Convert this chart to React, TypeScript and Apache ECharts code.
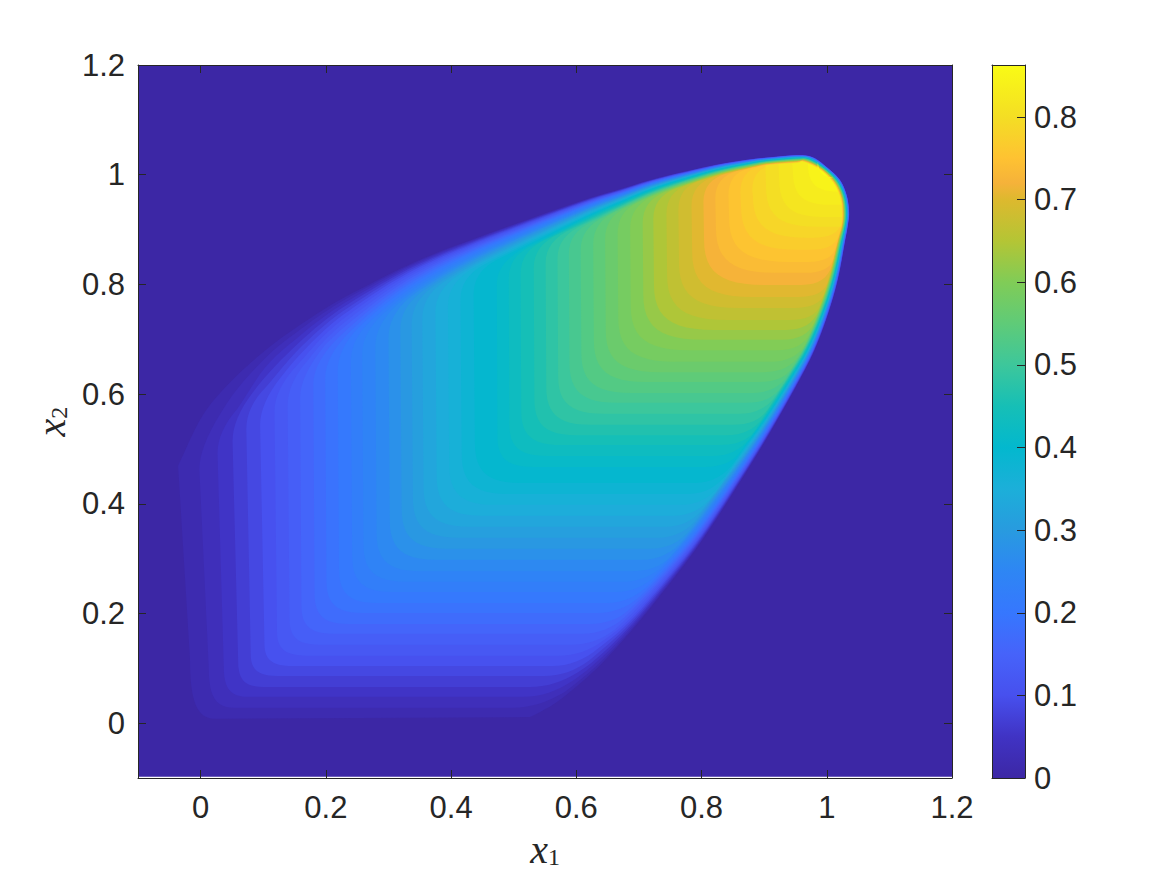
import React, { useEffect, useRef } from "react";
import * as echarts from "echarts";

// Axis ticks
const TICKS_X1 = [0, 0.2, 0.4, 0.6, 0.8, 1, 1.2];
const TICKS_X2 = [0, 0.2, 0.4, 0.6, 0.8, 1, 1.2];
const TICKS_BAR = [0, 0.1, 0.2, 0.3, 0.4, 0.5, 0.6, 0.7, 0.8];
const BAR_MAX = 0.863;

// Colour scale
const SCALE_VALUES = [0, 0.05, 0.1, 0.15, 0.2, 0.25, 0.3, 0.35, 0.4, 0.45, 0.5, 0.55, 0.6, 0.65, 0.7, 0.72, 0.75, 0.8, 0.863];
const SCALE_COLORS = ["#3c27a5", "#4033c4", "#4750ee", "#4663fa", "#3677fe", "#2e86f4", "#289bdf", "#1cafd9", "#03b8ce", "#16bfb6", "#3dc79b", "#5fcb78", "#80cc57", "#b4c535", "#ddb92e", "#f5b23a", "#fec232", "#f4de24", "#f9fb15"];

// Filled level sets of the field, lowest to highest
const LEVELS = [0.017, 0.034, 0.052, 0.069, 0.086, 0.103, 0.12, 0.138, 0.155, 0.172, 0.189, 0.206, 0.224, 0.241, 0.258, 0.275, 0.292, 0.31, 0.327, 0.344, 0.361, 0.378, 0.396, 0.413, 0.43, 0.447, 0.464, 0.482, 0.499, 0.516, 0.533, 0.55, 0.568, 0.585, 0.602, 0.622, 0.645, 0.665, 0.684, 0.703, 0.722, 0.738, 0.754, 0.77, 0.786, 0.8, 0.815, 0.83, 0.845, 0.86];
const LEFT_TOP = [-0.036, -0.002, 0.027, 0.051, 0.073, 0.095, 0.118, 0.139, 0.159, 0.18, 0.199, 0.219, 0.24, 0.258, 0.279, 0.3, 0.319, 0.337, 0.354, 0.375, 0.395, 0.415, 0.436, 0.473, 0.492, 0.511, 0.532, 0.551, 0.57, 0.588, 0.607, 0.627, 0.646, 0.666, 0.686, 0.706, 0.723, 0.744, 0.763, 0.784, 0.803, 0.822, 0.843, 0.862, 0.881, 0.902, 0.923, 0.945, 0.969, 0.985];
const LEFT_LOW = [-0.017, 0.013, 0.037, 0.06, 0.08, 0.102, 0.122, 0.142, 0.161, 0.182, 0.201, 0.221, 0.242, 0.26, 0.281, 0.302, 0.321, 0.339, 0.356, 0.377, 0.397, 0.417, 0.438, 0.474, 0.493, 0.512, 0.533, 0.552, 0.571, 0.589, 0.608, 0.628, 0.647, 0.667, 0.687, 0.707, 0.724, 0.745, 0.764, 0.785, 0.804, 0.823, 0.844, 0.863, 0.882, 0.903, 0.924, 0.946, 0.97, 0.986];
const BOTTOM = [0.008, 0.028, 0.048, 0.066, 0.086, 0.104, 0.123, 0.143, 0.163, 0.181, 0.201, 0.219, 0.239, 0.258, 0.277, 0.298, 0.318, 0.338, 0.358, 0.378, 0.398, 0.418, 0.438, 0.467, 0.487, 0.507, 0.525, 0.544, 0.564, 0.584, 0.602, 0.622, 0.64, 0.659, 0.68, 0.699, 0.717, 0.735, 0.757, 0.777, 0.799, 0.821, 0.841, 0.863, 0.885, 0.905, 0.923, 0.945, 0.969, 0.994];
const CORNER_RX = [0.04, 0.04, 0.038, 0.04, 0.043, 0.046, 0.048, 0.048, 0.051, 0.054, 0.058, 0.061, 0.064, 0.067, 0.07, 0.073, 0.073, 0.073, 0.073, 0.073, 0.073, 0.073, 0.073, 0.058, 0.061, 0.064, 0.067, 0.07, 0.073, 0.077, 0.08, 0.083, 0.086, 0.09, 0.093, 0.096, 0.096, 0.096, 0.096, 0.096, 0.096, 0.096, 0.096, 0.09, 0.086, 0.08, 0.07, 0.06, 0.05, 0.03];
const CORNER_RY = [0.11, 0.073, 0.055, 0.046, 0.04, 0.04, 0.044, 0.047, 0.051, 0.055, 0.058, 0.062, 0.066, 0.069, 0.069, 0.073, 0.073, 0.073, 0.073, 0.073, 0.073, 0.073, 0.073, 0.055, 0.058, 0.062, 0.066, 0.069, 0.069, 0.073, 0.073, 0.076, 0.076, 0.08, 0.08, 0.082, 0.082, 0.082, 0.082, 0.082, 0.082, 0.082, 0.08, 0.08, 0.076, 0.073, 0.069, 0.06, 0.05, 0.03];

// Outer rim of the field (where it leaves zero) and inner rim (where it reaches the interior value)
const RIM_OUTER_X = [0.531, 0.553, 0.579, 0.633, 0.686, 0.738, 0.802, 0.874, 0.917, 0.957, 0.981, 1.002, 1.018, 1.029, 1.034, 1.036, 1.032, 1.021, 1.0, 0.978, 0.952, 0.909, 0.882, 0.83, 0.777, 0.722, 0.67, 0.611, 0.483, 0.43, 0.378, 0.323, 0.271, 0.215, 0.164, 0.111, 0.05, 0.007, -0.025, -0.036];
const RIM_OUTER_Y = [0.008, 0.02, 0.042, 0.097, 0.164, 0.237, 0.334, 0.462, 0.544, 0.626, 0.681, 0.745, 0.809, 0.876, 0.908, 0.932, 0.963, 0.991, 1.014, 1.032, 1.036, 1.032, 1.029, 1.02, 1.007, 0.992, 0.974, 0.954, 0.903, 0.881, 0.859, 0.832, 0.803, 0.77, 0.735, 0.695, 0.642, 0.598, 0.553, 0.493];
const RIM_INNER_X = [0.526, 0.542, 0.563, 0.612, 0.663, 0.716, 0.78, 0.852, 0.896, 0.938, 0.964, 0.986, 1.003, 1.016, 1.023, 1.024, 1.021, 1.01, 0.989, 0.962, 0.952, 0.909, 0.882, 0.83, 0.777, 0.722, 0.67, 0.611, 0.483, 0.43, 0.378, 0.323, 0.258, 0.191, 0.138, 0.092, 0.05, -0.001, -0.03, -0.036];
const RIM_INNER_Y = [0.011, 0.037, 0.064, 0.124, 0.19, 0.261, 0.356, 0.48, 0.558, 0.638, 0.69, 0.752, 0.813, 0.877, 0.908, 0.932, 0.958, 0.985, 1.009, 1.023, 1.021, 1.018, 1.012, 0.999, 0.981, 0.959, 0.934, 0.905, 0.844, 0.817, 0.788, 0.751, 0.699, 0.648, 0.607, 0.58, 0.553, 0.504, 0.484, 0.469];
const RIM_VALUE = [0.017, 0.04, 0.069, 0.12, 0.189, 0.24, 0.32, 0.42, 0.499, 0.568, 0.61, 0.671, 0.722, 0.774, 0.8, 0.82, 0.85, 0.86, 0.86, 0.85, 0.83, 0.79, 0.77, 0.72, 0.67, 0.63, 0.58, 0.53, 0.43, 0.4, 0.36, 0.32, 0.27, 0.21, 0.15, 0.1, 0.055, 0.034, 0.017, 0.017];

// Extent of the image inside the axes
const IMAGE_X = [-0.0985, 1.2];
const IMAGE_Y = [-0.0975, 1.2];

const INK = "#262626";
const SANS = "'Liberation Sans', Arial, sans-serif";
const SERIF = "'Liberation Serif', serif";

function hex(c: string) {
  return [1, 3, 5].map((k) => parseInt(c.slice(k, k + 2), 16));
}
function colorAt(v: number) {
  let k = 0;
  while (k < SCALE_VALUES.length - 2 && v > SCALE_VALUES[k + 1]) k++;
  const t = Math.min(1, Math.max(0, (v - SCALE_VALUES[k]) / (SCALE_VALUES[k + 1] - SCALE_VALUES[k])));
  const a = hex(SCALE_COLORS[k]);
  const b = hex(SCALE_COLORS[k + 1]);
  return `rgb(${a.map((p, j) => Math.round(p + (b[j] - p) * t)).join(",")})`;
}

// Rounds a traced outline (Catmull-Rom) so that it is drawn as a curve
function rounded(points: number[][]) {
  const out: number[][] = [];
  const n = points.length;
  for (let i = 0; i < n - 1; i++) {
    const p0 = points[Math.max(0, i - 1)];
    const p1 = points[i];
    const p2 = points[i + 1];
    const p3 = points[Math.min(n - 1, i + 2)];
    for (let k = 0; k < 6; k++) {
      const t = k / 6;
      out.push([0, 1].map((d) =>
        0.5 * (2 * p1[d] + (p2[d] - p0[d]) * t + (2 * p0[d] - 5 * p1[d] + 4 * p2[d] - p3[d]) * t * t + (3 * p1[d] - p0[d] - 3 * p2[d] + p3[d]) * t * t * t)
      ));
    }
  }
  out.push(points[n - 1]);
  return out;
}

function bend(p0: number[], ctrl: number[], p1: number[]) {
  const out: number[][] = [];
  for (let k = 0; k <= 8; k++) {
    const t = k / 8;
    const u = 1 - t;
    out.push([0, 1].map((d) => u * u * p0[d] + 2 * u * t * ctrl[d] + t * t * p1[d]));
  }
  return out;
}

function levelOutline(i: number): number[][] {
  const c = LEVELS[i];
  const L = LEFT_TOP[i];
  const low = LEFT_LOW[i];
  const B = BOTTOM[i];
  const rx = CORNER_RX[i];
  const ry = CORNER_RY[i];
  const rim = rounded(RIM_VALUE.map((v, k) => {
    const f = Math.pow(Math.min(1, c / v), 1.4);
    return [
      RIM_OUTER_X[k] + (RIM_INNER_X[k] - RIM_OUTER_X[k]) * f,
      RIM_OUTER_Y[k] + (RIM_INNER_Y[k] - RIM_OUTER_Y[k]) * f,
    ];
  }));
  let a = 0;
  while (a < rim.length - 1 && rim[a][1] < B) a++;
  let b = rim.length - 1;
  while (b > a && rim[b][0] < L) b--;
  const pts: number[][] = [];
  const s = 0.72;
  for (let k = 0; k <= 12; k++) {
    const t = k / 12;
    const u = 1 - t;
    const p0 = [low, B + ry];
    const p1 = [low, B + ry * (1 - s)];
    const p2 = [low + rx * (1 - s), B];
    const p3 = [low + rx, B];
    pts.push([0, 1].map((d) => u * u * u * p0[d] + 3 * u * u * t * p1[d] + 3 * u * t * t * p2[d] + t * t * t * p3[d]));
  }

  // Where the level's horizontal run meets the rim, it bends up into it
  let from = a;
  if (a > 0) {
    const p = rim[a - 1];
    const q = rim[a];
    const xI = p[0] + (q[0] - p[0]) * ((B - p[1]) / (q[1] - p[1]));
    let a2 = a;
    while (a2 < b && rim[a2][1] < B + 0.025) a2++;
    if (a2 < b && xI - 0.04 > low + rx) {
      pts.push(...bend([xI - 0.04, B], [xI, B], rim[a2]));
      from = a2 + 1;
    } else {
      pts.push([xI, B]);
    }
  }

  // Where the level's vertical run meets the rim, it bends right into it
  let to = b;
  let tail: number[][] = [];
  if (b < rim.length - 1) {
    const p = rim[b];
    const q = rim[b + 1];
    const yI = p[1] + (q[1] - p[1]) * ((L - p[0]) / (q[0] - p[0]));
    let b2 = b;
    while (b2 > from && rim[b2][0] < L + 0.03) b2--;
    if (b2 > from && yI - 0.04 > B + ry) {
      tail = bend(rim[b2], [L, yI], [L, yI - 0.04]);
      to = b2 - 1;
    } else {
      tail = [[L, yI]];
    }
  }
  for (let k = from; k <= to; k++) pts.push(rim[k]);
  pts.push(...tail);
  return pts;
}

const formatTick = (v: number) => String(v);

export default function App() {
  const ref = useRef<HTMLDivElement>(null);
  useEffect(() => {
    const chart = echarts.init(ref.current!, undefined, { renderer: "svg" });
    const tick = (values: number[]) => ({ show: true, inside: true, length: 8, customValues: values, lineStyle: { color: INK, width: 1 } });
    const line = { show: true, onZero: false, lineStyle: { color: INK, width: 1 } };
    const label = (values: number[], margin: number, padding: number[]) => ({
      show: true,
      customValues: values,
      margin,
      padding,
      color: INK,
      fontFamily: SANS,
      fontSize: 31,
      formatter: formatTick,
    });
    const nameStyle = {
      rich: {
        v: { fontFamily: SERIF, fontStyle: "italic", fontSize: 40, color: INK },
        s: { fontFamily: SERIF, fontSize: 24, color: INK, padding: [16, 0, 0, 0] },
      },
    };
    const stops = SCALE_VALUES.map((v, k) => ({ offset: v / BAR_MAX, color: SCALE_COLORS[k] }));
    chart.setOption({
      animation: false,
      backgroundColor: "#ffffff",
      grid: [
        { left: 138, top: 65, width: 814, height: 713, outerBoundsMode: "none" },
        { left: 992, top: 65, width: 33, height: 713, outerBoundsMode: "none" },
      ],
      xAxis: [
        {
          type: "value", gridIndex: 0, position: "bottom", min: -0.1, max: 1.2, z: 10,
          axisLine: line, axisTick: tick(TICKS_X1), axisLabel: label(TICKS_X1, 14, [0, 0, 0, 0]), splitLine: { show: false },
          name: "{v|x}{s|1}", nameLocation: "middle", nameGap: 51, nameTextStyle: nameStyle,
        },
        {
          type: "value", gridIndex: 0, position: "top", min: -0.1, max: 1.2, z: 10,
          axisLine: line, axisTick: tick(TICKS_X1), axisLabel: { show: false }, splitLine: { show: false },
        },
        {
          type: "category", gridIndex: 1, position: "bottom", data: ["bar"], z: 10,
          axisLine: line, axisTick: { show: false }, axisLabel: { show: false }, splitLine: { show: false },
        },
        {
          type: "category", gridIndex: 1, position: "top", data: ["bar"], z: 10,
          axisLine: line, axisTick: { show: false }, axisLabel: { show: false }, splitLine: { show: false },
        },
      ],
      yAxis: [
        {
          type: "value", gridIndex: 0, position: "left", min: -0.1, max: 1.2, z: 10,
          axisLine: line, axisTick: tick(TICKS_X2), axisLabel: label(TICKS_X2, 13, [4, 0, 0, 0]), splitLine: { show: false },
          name: "{v|x}{s|2}", nameLocation: "middle", nameGap: 64, nameRotate: 90, nameTextStyle: nameStyle,
        },
        {
          type: "value", gridIndex: 0, position: "right", min: -0.1, max: 1.2, z: 10,
          axisLine: line, axisTick: tick(TICKS_X2), axisLabel: { show: false }, splitLine: { show: false },
        },
        {
          type: "value", gridIndex: 1, position: "right", min: 0, max: BAR_MAX, z: 10,
          axisLine: line, axisTick: tick(TICKS_BAR), axisLabel: label(TICKS_BAR, 9, [3, 0, 0, 0]), splitLine: { show: false },
        },
        {
          type: "value", gridIndex: 1, position: "left", min: 0, max: BAR_MAX, z: 10,
          axisLine: line, axisTick: { show: false }, axisLabel: { show: false }, splitLine: { show: false },
        },
      ],
      series: [
        {
          type: "custom",
          xAxisIndex: 0,
          yAxisIndex: 0,
          silent: true,
          clip: true,
          data: [[-1, 0], ...LEVELS.map((v, i) => [i, v])],
          renderItem: (_params: any, api: any) => {
            const i = api.value(0);
            const value = api.value(1);
            const outline =
              i < 0
                ? [[IMAGE_X[0], IMAGE_Y[0]], [IMAGE_X[1], IMAGE_Y[0]], [IMAGE_X[1], IMAGE_Y[1]], [IMAGE_X[0], IMAGE_Y[1]]]
                : levelOutline(i);
            return {
              type: "polygon",
              shape: { points: outline.map((p) => api.coord(p)) },
              style: { fill: colorAt(value), stroke: "none" },
            };
          },
        },
        {
          type: "bar",
          xAxisIndex: 2,
          yAxisIndex: 2,
          silent: true,
          barWidth: "100%",
          data: [BAR_MAX],
          itemStyle: { color: new echarts.graphic.LinearGradient(0, 1, 0, 0, stops) },
        },
      ],
    });
    return () => chart.dispose();
  }, []);
  return <div ref={ref} style={{ position: "absolute", left: 0, top: 0, width: 1167, height: 875 }} />;
}
